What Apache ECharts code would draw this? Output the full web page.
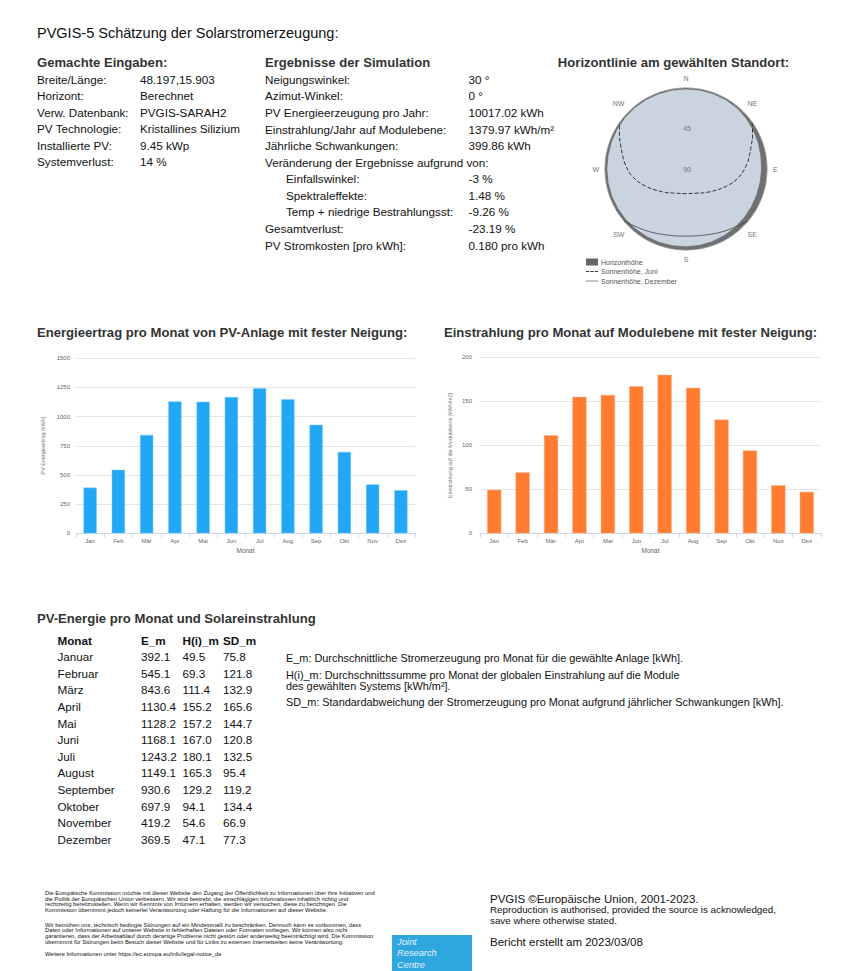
<!DOCTYPE html>
<html>
<head>
<meta charset="utf-8">
<script src="https://cdn.jsdelivr.net/npm/echarts@6/dist/echarts.min.js"></script>
<style>
html,body{margin:0;padding:0;background:#fff;}
#c{width:867px;height:971px;}
</style>
</head>
<body>
<div id="c"></div>
<script>
// ---------- DATA ----------
const months = ['Jan','Feb','Mär','Apr','Mai','Jun','Jul','Aug','Sep','Okt','Nov','Dez'];
const monthNames = ['Januar','Februar','März','April','Mai','Juni','Juli','August','September','Oktober','November','Dezember'];
const E_m = [392.1,545.1,843.6,1130.4,1128.2,1168.1,1243.2,1149.1,930.6,697.9,419.2,369.5];
const H_m = [49.5,69.3,111.4,155.2,157.2,167.0,180.1,165.3,129.2,94.1,54.6,47.1];
const SD_m = [75.8,121.8,132.9,165.6,144.7,120.8,132.5,95.4,119.2,134.4,66.9,77.3];

const inputLabels = ['Breite/Länge:','Horizont:','Verw. Datenbank:','PV Technologie:','Installierte PV:','Systemverlust:'];
const inputValues = ['48.197,15.903','Berechnet','PVGIS-SARAH2','Kristallines Silizium','9.45 kWp','14 %'];

const resultLabels = ['Neigungswinkel:','Azimut-Winkel:','PV Energieerzeugung pro Jahr:','Einstrahlung/Jahr auf Modulebene:','Jährliche Schwankungen:','Veränderung der Ergebnisse aufgrund von:','Einfallswinkel:','Spektraleffekte:','Temp + niedrige Bestrahlungsst:','Gesamtverlust:','PV Stromkosten [pro kWh]:'];
const resultIndent = [0,0,0,0,0,0,1,1,1,0,0];
const resultValues = ['30 °','0 °','10017.02 kWh','1379.97 kWh/m²','399.86 kWh','','-3 %','1.48 %','-9.26 %','-23.19 %','0.180 pro kWh'];

// horizon: azimuth (deg from N, clockwise) and horizon elevation (deg)
const horizonAz =   [0,10,20,30,40,50,60,70,80,90,100,110,120,130,140,150,160,170,180,190,200,210,220,230,240,250,260,270,280,290,300,310,320,330,340,350,360];
const horizonElev = [1,1,1,1.2,1.6,2.5,3.5,4.5,5.5,6,6.3,6.3,6,5.6,5.1,4.6,4.1,3.8,3.5,3.3,3.1,3,2.8,2.5,2.3,2.1,2,2,2,1.8,1.5,1.2,1,1,1,1,1];
// sun paths
const juneAz =   [55,63,71,78,84.5,97.7,113,136,158,180,202,224,247,262.3,275.5,282,289,297,305];
const juneElev = [0,7,13.5,18,21.6,29.8,41.2,54.3,61,62.6,61,54.3,41.2,29.8,21.6,18,13.5,7,0];
const decAz =   [130,147,163,180,197,213,230];
const decElev = [0,8.4,13.5,15.4,13.5,8.4,0];
const dirLabels = {0:'N',45:'NE',90:'E',135:'SE',180:'S',225:'SW',270:'W',315:'NW'};

const legendNotes = [
  'E_m: Durchschnittliche Stromerzeugung pro Monat für die gewählte Anlage [kWh].',
  'H(i)_m: Durchschnittssumme pro Monat der globalen Einstrahlung auf die Module',
  'des gewählten Systems [kWh/m²].',
  'SD_m: Standardabweichung der Stromerzeugung pro Monat aufgrund jährlicher Schwankungen [kWh].'
];
const disclaimer1 = [
  'Die Europäische Kommission möchte mit dieser Website den Zugang der Öffentlichkeit zu Informationen über ihre Initiativen und',
  'die Politik der Europäischen Union verbessern. Wir sind bestrebt, die einschlägigen Informationen inhaltlich richtig und',
  'rechtzeitig bereitzustellen. Wenn wir Kenntnis von Irrtümern erhalten, werden wir versuchen, diese zu berichtigen. Die',
  'Kommission übernimmt jedoch keinerlei Verantwortung oder Haftung für die Informationen auf dieser Website.'
];
const disclaimer2 = [
  'Wir bemühen uns, technisch bedingte Störungen auf ein Mindestmaß zu beschränken. Dennoch kann es vorkommen, dass',
  'Daten oder Informationen auf unserer Website in fehlerhaften Dateien oder Formaten vorliegen. Wir können also nicht',
  'garantieren, dass der Arbeitsablauf durch derartige Probleme nicht gestört oder anderweitig beeinträchtigt wird. Die Kommission',
  'übernimmt für Störungen beim Besuch dieser Website und für Links zu externen Internetseiten keine Verantwortung.'
];
const disclaimer3 = 'Weitere Informationen unter https://ec.europa.eu/info/legal-notice_de';
const logoLines = ['Joint', 'Research', 'Centre'];

// ---------- BUILD ----------
const FONT = '"Liberation Sans", Arial, Helvetica, sans-serif';
const g = [];
function T(x, y, text, size, opts) {
  opts = opts || {};
  g.push({
    type: 'text', x: x, y: y, silent: true,
    style: {
      text: text, fontSize: size, fontFamily: opts.family || FONT,
      fontWeight: opts.bold ? 'bold' : 'normal', fontStyle: opts.italic ? 'italic' : 'normal',
      fill: opts.color || '#111', align: opts.align || 'left', verticalAlign: opts.va || 'middle',
      lineHeight: opts.lh || undefined
    }
  });
}
const HB = 13.1;   // bold header size
const BT = 11.7;   // body text size

// Title
T(37, 33, 'PVGIS-5 Schätzung der Solarstromerzeugung:', 14.5, {color:'#111'});
// Inputs
T(37, 62.5, 'Gemachte Eingaben:', HB, {bold:true, color:'#333'});
inputLabels.forEach((l, i) => {
  const y = 79.3 + i * 16.5;
  T(37, y, l, BT);
  T(140, y, inputValues[i], BT);
});
// Results
T(265, 62.5, 'Ergebnisse der Simulation', HB, {bold:true, color:'#333'});
resultLabels.forEach((l, i) => {
  const y = 79.3 + i * 16.57;
  T(resultIndent[i] ? 286 : 265, y, l, BT);
  if (resultValues[i]) T(468.5, y, resultValues[i], BT);
});
// Horizon header
T(673.5, 62.5, 'Horizontlinie am gewählten Standort:', HB, {bold:true, color:'#333', align:'center'});

// Chart titles
T(37, 332, 'Energieertrag pro Monat von PV-Anlage mit fester Neigung:', HB, {bold:true, color:'#333'});
T(444, 332, 'Einstrahlung pro Monat auf Modulebene mit fester Neigung:', HB, {bold:true, color:'#333'});

// Table
T(37, 618.5, 'PV-Energie pro Monat und Solareinstrahlung', HB, {bold:true, color:'#333'});
T(57.5, 640, 'Monat', BT, {bold:true});
T(141, 640, 'E_m', BT, {bold:true});
T(182.5, 640, 'H(i)_m', BT, {bold:true});
T(223, 640, 'SD_m', BT, {bold:true});
monthNames.forEach((m, i) => {
  const y = 656.7 + i * 16.6;
  T(57.5, y, m, BT);
  T(141, y, E_m[i].toFixed(1), BT);
  T(182.5, y, H_m[i].toFixed(1), BT);
  T(223, y, SD_m[i].toFixed(1), BT);
});
T(286, 658, legendNotes[0], 10.9);
T(286, 674.5, legendNotes[1], 10.9);
T(286, 685.5, legendNotes[2], 10.9);
T(286, 701.5, legendNotes[3], 10.9);

// Footer left
disclaimer1.forEach((l, i) => T(45, 893 + i * 5.7, l, 5.8, {lh: 5.7}));
disclaimer2.forEach((l, i) => T(45, 924.5 + i * 5.7, l, 5.8, {lh: 5.7}));
T(45, 954, disclaimer3, 5.8, {lh: 5.7});

// JRC logo
g.push({type:'rect', silent:true, shape:{x:392, y:935, width:80, height:40}, style:{fill:'#2ea6de'}});
logoLines.forEach((l, i) => T(397, 941.5 + i * 11.6, l, 9.3, {italic:true, color:'#e6f3fb', lh: 11}));

// Footer right
T(490, 899, 'PVGIS ©Europäische Union, 2001-2023.', 11.5);
T(490, 909.3, 'Reproduction is authorised, provided the source is acknowledged,', 9.8, {lh: 10.5});
T(490, 920, 'save where otherwise stated.', 9.8, {lh: 10.5});
T(490, 942.3, 'Bericht erstellt am 2023/03/08', 11.5);

const axisLblColor = '#666';
function catAxis(gridIndex) {
  return {
    type: 'category', gridIndex: gridIndex, data: months,
    name: 'Monat', nameLocation: 'middle', nameGap: 14,
    nameTextStyle: {fontSize: 6.5, color: axisLblColor, fontFamily: FONT},
    axisLine: {lineStyle: {color: '#ccd6eb', width: 1}},
    axisTick: {show: true, length: 4, lineStyle: {color: '#ccd6eb'}},
    axisLabel: {fontSize: 6, color: axisLblColor, margin: 5, fontFamily: FONT}
  };
}
function valAxis(gridIndex, max, interval, name, nameGap, margin) {
  return {
    type: 'value', gridIndex: gridIndex, min: 0, max: max, interval: interval,
    name: name, nameLocation: 'middle', nameGap: nameGap, nameRotate: 90,
    nameTextStyle: {fontSize: 5.5, color: '#777', fontFamily: FONT},
    axisLine: {show: false}, axisTick: {show: false},
    axisLabel: {fontSize: 6, color: axisLblColor, margin: margin, fontFamily: FONT,
      formatter: v => String(v)},
    splitLine: {lineStyle: {color: '#e6e6e6', width: 1}}
  };
}

const option = {
  animation: false,
  backgroundColor: '#fff',
  grid: [
    {left: 76, right: 452, top: 358.3, bottom: 437.7},
    {left: 480, right: 46, top: 357.3, bottom: 437.7}
  ],
  xAxis: [catAxis(0), catAxis(1)],
  yAxis: [
    valAxis(0, 1500, 250, 'PV Energieertrag [kWh]', 30, 6),
    valAxis(1, 200, 50, 'Einstrahlung auf die Modulebene [kWh/m2]', 27, 8)
  ],
  polar: {center: [686, 169], radius: 81},
  angleAxis: {
    type: 'value', min: 0, max: 360, interval: 45, startAngle: 90, clockwise: true,
    axisLine: {show: true, lineStyle: {color: '#9a9a9a', width: 1}},
    axisTick: {show: false},
    axisLabel: {fontSize: 7, color: '#777', margin: 6, fontFamily: FONT,
      formatter: v => (v === 360 ? '' : (dirLabels[v] || ''))},
    splitLine: {show: true, lineStyle: {color: '#d3dbe3', width: 0.6}},
    splitArea: {show: true, areaStyle: {color: ['#c9d4de']}}
  },
  radiusAxis: {
    type: 'value', min: 0, max: 90, interval: 45, inverse: true,
    axisLine: {show: false}, axisTick: {show: false},
    axisLabel: {fontSize: 7, color: '#777', margin: -5, fontFamily: FONT,
      formatter: v => (v === 0 ? '' : String(v))},
    splitLine: {show: true, lineStyle: {color: '#d3dbe3', width: 0.6}}
  },
  legend: {
    left: 586, top: 258.5, orient: 'vertical', itemGap: 2.5, itemWidth: 12, itemHeight: 7,
    padding: 0,
    textStyle: {fontSize: 7, color: '#555', fontFamily: FONT, padding: [0,0,0,-2]},
    data: [
      {name: 'Horizonthöhe', icon: 'rect', textStyle: {color: '#555'}},
      {name: 'Sonnenhöhe, Juni', icon: 'path://M0,0h3.2v1h-3.2z M4.4,0h3.2v1h-3.2z M8.8,0h3.2v1h-3.2z', textStyle: {color: '#555'}},
      {name: 'Sonnenhöhe, Dezember', icon: 'path://M0,0h12v0.6h-12z', textStyle: {color: '#555'}}
    ]
  },
  graphic: g,
  series: [
    {
      name: 'E_m', type: 'bar', xAxisIndex: 0, yAxisIndex: 0, data: E_m, barWidth: '47%',
      itemStyle: {color: '#22a7f5', borderColor: '#7fcdfa', borderWidth: 0.5}
    },
    {
      name: 'H(i)_m', type: 'bar', xAxisIndex: 1, yAxisIndex: 1, data: H_m, barWidth: '50%',
      itemStyle: {color: '#ff7c30', borderColor: '#ffb287', borderWidth: 0.5}
    },
    {
      name: 'Horizonthöhe', type: 'line', coordinateSystem: 'polar', color: '#666',
      data: horizonAz.map((a, i) => [horizonElev[i], a]),
      symbol: 'none', lineStyle: {color: '#707070', width: 0.8},
      itemStyle: {color: '#666'},
      areaStyle: {color: '#707070', opacity: 1, origin: 'start'}
    },
    {
      name: 'Sonnenhöhe, Juni', type: 'line', coordinateSystem: 'polar', color: '#333',
      data: juneAz.map((a, i) => [juneElev[i], a]), smooth: 0.4,
      symbol: 'none', lineStyle: {color: '#333', width: 1, type: [4, 2]},
      itemStyle: {color: '#333'}
    },
    {
      name: 'Sonnenhöhe, Dezember', type: 'line', coordinateSystem: 'polar', color: '#444',
      data: decAz.map((a, i) => [decElev[i], a]), smooth: 0.4,
      symbol: 'none', lineStyle: {color: '#444', width: 0.8},
      itemStyle: {color: '#444'}
    }
  ]
};

const chart = echarts.init(document.getElementById('c'), null, {renderer: 'svg'});
chart.setOption(option);
</script>
</body>
</html>
